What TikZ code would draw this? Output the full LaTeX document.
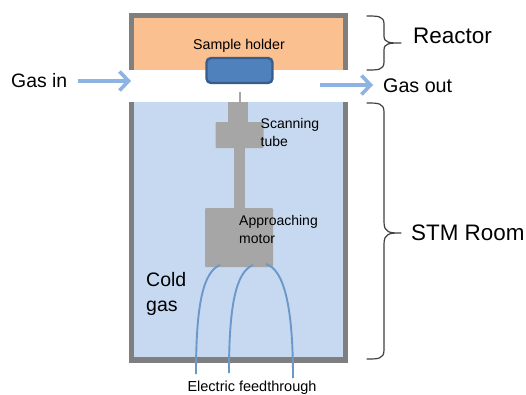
\documentclass[tikz,border=0pt]{standalone}
\usepackage{fontspec}
\setmainfont{Liberation Sans}
\usetikzlibrary{arrows.meta}
\definecolor{wallc}{HTML}{7F7F7F}
\definecolor{orangec}{HTML}{FAC090}
\definecolor{bluec}{HTML}{C6D9F1}
\definecolor{holderf}{HTML}{4F81BD}
\definecolor{holderd}{HTML}{385D8A}
\definecolor{partc}{HTML}{A6A6A6}
\definecolor{arrowc}{HTML}{8DB3E2}
\definecolor{wirec}{HTML}{6C97CB}
\definecolor{bracec}{HTML}{404040}
\tikzset{
  part/.style={fill=partc,draw=none,inner sep=0pt,rounded corners=1pt},
  gasarrow/.style={draw=arrowc,line width=3.6pt,-{Straight Barb[length=9pt,width=19pt,line width=3.6pt]}},
  wire/.style={draw=wirec,line width=1.9pt},
  curly/.style={draw=bracec,line width=1.2pt,line cap=round},
  label/.style={inner sep=0pt,anchor=west,align=left},
  wall/.style={draw=wallc,line width=5.5pt,line cap=butt}
}
\begin{document}
\begin{tikzpicture}[x=1pt,y=-1pt]
\useasboundingbox (0,0) rectangle (526,394);
\fill[white] (0,0) rectangle (526,394);
% chamber
\fill[orangec] (132,16) rectangle (345,70);
\fill[bluec] (132,102) rectangle (345,360);
\draw[wall] (131.5,70) -- (131.5,15.5) -- (345.5,15.5) -- (345.5,70);
\draw[wall] (131.5,102) -- (131.5,360) -- (345.5,360) -- (345.5,102);
% tip and scanner
\fill[partc] (239,92) rectangle (241,102);
\fill[partc] (228,102) rectangle (248,124);
\node[part,minimum width=48pt,minimum height=26pt] (scan) at (239.5,135) {};
\fill[partc] (234,148) rectangle (245,210);
\node[part,minimum width=68pt,minimum height=59pt] (motor) at (239,237.5) {};
% holder
\node[draw=holderd,fill=holderf,line width=2.4pt,rounded corners=4.5pt,minimum width=66pt,minimum height=25pt,inner sep=0pt] (holder) at (239.5,70.5) {};
% labels
\node[inner sep=0pt,font=\fontsize{14.2}{16}\selectfont] (sh) at (239,45.5) {Sample holder};
\node[label,font=\fontsize{14}{18}\selectfont] (st) at (260.5,132) {Scanning\\tube};
\node[label,font=\fontsize{14}{18}\selectfont] (am) at (239,229) {Approaching\\motor};
\node[label,font=\fontsize{19.5}{25}\selectfont] (cg) at (146,293.5) {Cold\\gas};
\node[inner sep=0pt,font=\fontsize{14.5}{16}\selectfont] (ef) at (252,388) {Electric feedthrough};
\node[label,font=\fontsize{19.4}{22}\selectfont] (gi) at (11,80.5) {Gas in};
\node[label,font=\fontsize{19.7}{22}\selectfont] (go) at (383,85.5) {Gas out};
\node[label,font=\fontsize{22.5}{25}\selectfont] (re) at (413,36) {Reactor};
\node[label,font=\fontsize{22.4}{25}\selectfont] (sr) at (411,233) {STM Room};
% arrows
\coordinate (inS) at (78,81); \coordinate (inE) at (131,81);
\coordinate (outS) at (320,85); \coordinate (outE) at (373,85);
\draw[gasarrow] (inS) -- (inE);
\draw[gasarrow] (outS) -- (outE);
% wires
\coordinate (w1a) at (220,265); \coordinate (w1b) at (196,374);
\coordinate (w2a) at (253,265); \coordinate (w2b) at (229,373);
\coordinate (w3a) at (266,264); \coordinate (w3b) at (293,378);
\draw[wire] (w1a) .. controls (203,272) and (196,305) .. (w1b);
\draw[wire] (w2a) .. controls (236,272) and (229,305) .. (w2b);
\draw[wire] (w3a) .. controls (285,270) and (293,310) .. (w3b);
% braces
\coordinate (ra) at (367,16); \coordinate (rb) at (367,70); \coordinate (rt) at (401,43);
\coordinate (sa) at (367,103); \coordinate (sb) at (367,359); \coordinate (st2) at (401,233);
\draw[curly] (ra) .. controls (378,16) and (384,16) .. (384,24) -- (384,36) .. controls (384,43) and (390,43) .. (rt)
  (rt) .. controls (390,43) and (384,43) .. (384,50) -- (384,62) .. controls (384,70) and (378,70) .. (rb);
\draw[curly] (sa) .. controls (378,103) and (384,103) .. (384,112) -- (384,222) .. controls (384,233) and (390,233) .. (st2)
  (st2) .. controls (390,233) and (384,233) .. (384,244) -- (384,350) .. controls (384,359) and (378,359) .. (sb);
\end{tikzpicture}
\end{document}
